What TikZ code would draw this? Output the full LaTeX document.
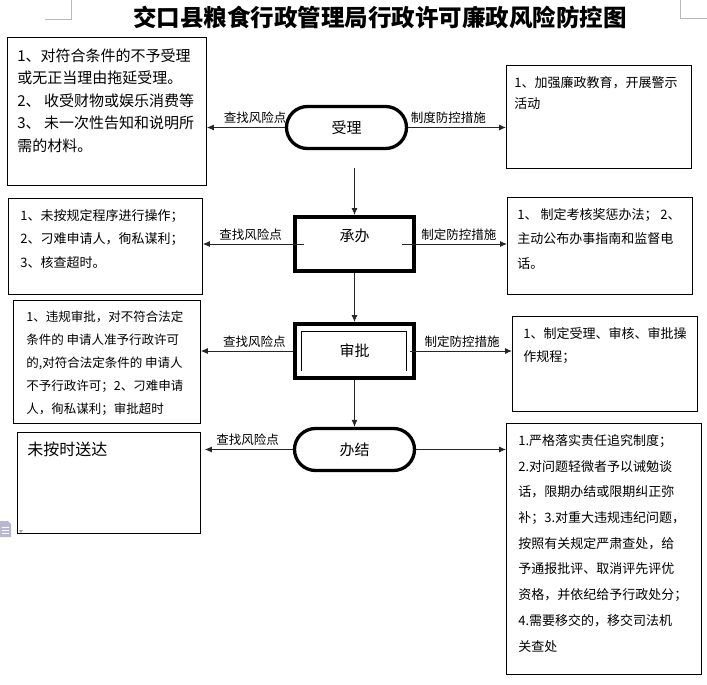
\documentclass[tikz,border=0pt]{standalone}
\usepackage{fontspec}
\setmainfont{Noto Sans CJK SC}
\usetikzlibrary{arrows.meta,calc}

\begin{document}
\begin{tikzpicture}[x=1pt, y=-1pt,
		note/.style={draw, line width=0.8pt, anchor=north west, inner ysep=11pt},
		term/.style={draw, line width=3.3pt, rounded corners=21pt, minimum width=120pt, minimum height=42pt, font=\fontsize{15}{18}\selectfont},
		task/.style={draw, line width=4pt, minimum width=119pt, minimum height=54pt, font=\fontsize{15}{18}\selectfont},
		flow/.style={-{Latex[length=7pt,width=6pt]}, line width=0.9pt, draw=black!85},
		tag/.style={font=\fontsize{12.5}{14}\selectfont, above}
		]
		\useasboundingbox (0,0) rectangle (707,685);
		\draw[gray!55, line width=0.8pt] (45,19) -- (71,19) -- (71,0);
		\draw[gray!55, line width=0.8pt] (707,18) -- (680,18) -- (680,0);
		\node[font=\fontsize{23.5}{26}\selectfont\bfseries] (title) at (380,17) {交口县粮食行政管理局行政许可廉政风险防控图};
		% main flow
		\node[term] (sl) at (346.5,127.5) {受理};
		\node[task, text height=12.5pt, text depth=17pt] (cb) at (354.5,244) {承办};
		\node[task] (sp) at (354.5,351) {审批};
		\draw[line width=0.8pt] ([shift={(8,-9)}]sp.south west) |- ([shift={(-10,9)}]sp.north east) -- ([shift={(-10,-9)}]sp.south east);
		\node[term] (bj) at (354.5,449.5) {办结};
		% risk points
		\node[note, inner xsep=10pt] (l1) at (7,37) {\parbox[t][126pt][t]{179pt}{\fontsize{15}{22.5}\selectfont 1、对符合条件的不予受理\\或无正当理由拖延受理。\\2、 收受财物或娱乐消费等\\3、 未一次性告知和说明所\\需的材料。}};
		\node[note, inner xsep=12pt] (l2) at (8,198) {\parbox[t][74pt][t]{170pt}{\fontsize{13}{23.5}\selectfont 1、未按规定程序进行操作；\\2、刁难申请人，徇私谋利；\\3、核查超时。}};
		\node[note, inner xsep=13pt] (l3) at (13,300) {\parbox[t][101pt][t]{161pt}{\fontsize{12.5}{23}\selectfont 1、违规审批，对不符合法定\\条件的 申请人准予行政许可\\的,对符合法定条件的 申请人\\不予行政许可；2、刁难申请\\人，徇私谋利；审批超时}};
		\node[note, inner xsep=10pt, inner ysep=10pt] (l4) at (17,432) {\parbox[t][81pt][t]{163pt}{\fontsize{16}{20}\selectfont 未按时送达}};
		% control measures
		\node[note, inner xsep=8pt] (r1) at (506,65) {\parbox[t][81pt][t]{169pt}{\fontsize{13}{21}\selectfont 1、加强廉政教育，开展警示\\活动}};
		\node[note, inner xsep=10pt] (r2) at (507,197) {\parbox[t][75pt][t]{165pt}{\fontsize{13}{24.5}\selectfont 1、 制定考核奖惩办法； 2、\\主动公布办事指南和监督电\\话。}};
		\node[note, inner xsep=11pt] (r3) at (512,316) {\parbox[t][73pt][t]{163pt}{\fontsize{13}{23}\selectfont 1、制定受理、审核、审批操\\作规程；}};
		\node[note, inner xsep=12pt] (r4) at (506,423) {\parbox[t][229pt][t]{171pt}{\fontsize{13}{25.7}\selectfont 1.严格落实责任追究制度；\\2.对问题轻微者予以诫勉谈\\话，限期办结或限期纠正弥\\补；3.对重大违规违纪问题，\\按照有关规定严肃查处，给\\予通报批评、取消评先评优\\资格，并依纪给予行政处分；\\4.需要移交的，移交司法机\\关查处}};
		% connectors
		\draw[flow, shorten <=18pt] (cb.north |- sl.south) -- (cb.north);
		\draw[flow] (cb) -- (sp);
		\draw[flow] (sp) -- (bj);
		\draw[flow] (sl.west) -- node[tag, pos=0.38] {查找风险点} (sl.west -| l1.east);
		\draw[flow] (sl.east) -- node[tag, pos=0.41] {制度防控措施} (sl.east -| r1.west);
		\draw[flow, shorten <=-11pt] (cb.west) -- node[tag, pos=0.47] {查找风险点} (cb.west -| l2.east);
		\draw[flow, shorten <=-14pt] (cb.east) -- node[tag, pos=0.47] {制定防控措施} (cb.east -| r2.west);
		\draw[flow] (sp.west) -- node[tag, pos=0.42] {查找风险点} (sp.west -| l3.east);
		\draw[flow, shorten <=-6pt] (sp.east) -- node[tag, pos=0.48] {制定防控措施} (sp.east -| r3.west);
		\draw[flow, shorten >=4pt] (bj.west) -- node[tag, pos=0.49] {查找风险点} (bj.west -| l4.east);
		\draw[flow] (bj.east) -- (bj.east -| r4.west);
		% page icon
		\fill[blue!25!gray!45] (0,521) -- (8,521) -- (11,524) -- (11,537) -- (0,537) -- cycle;
		\draw[white, line width=0.8pt] (2,527) -- (9,527) (2,530) -- (9,530) (2,533) -- (9,533);
		\fill[gray!70] (19,530) -- (23,530) -- (21,533) -- cycle;
\end{tikzpicture}
\end{document}
